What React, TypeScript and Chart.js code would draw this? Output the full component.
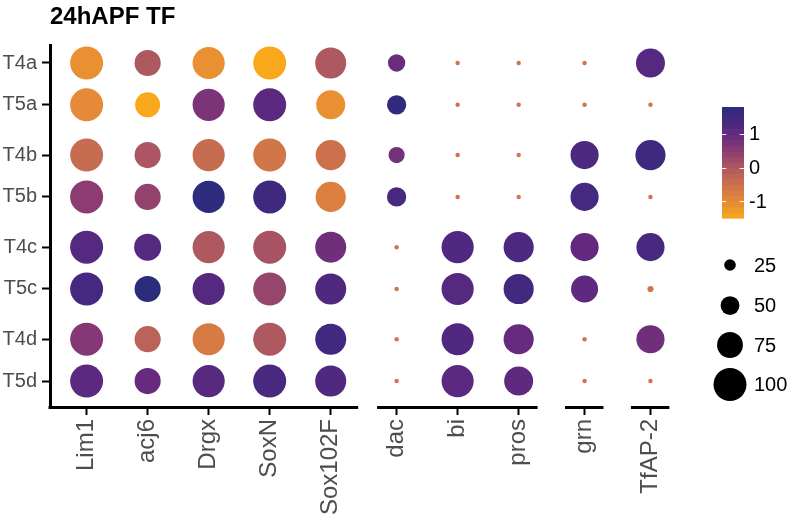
import React, { useEffect, useRef } from "react";
import { Chart, registerables } from "chart.js";

Chart.register(...registerables);

// ---------------- data ----------------
const chartTitle = "24hAPF TF";
const cellTypes = ["T4a", "T5a", "T4b", "T5b", "T4c", "T5c", "T4d", "T5d"];
const cellGroups = [0, 0, 1, 1, 2, 2, 3, 3];
const genes = ["Lim1", "acj6", "Drgx", "SoxN", "Sox102F", "dac", "bi", "pros", "grn", "TfAP-2"];
const geneGroups = [0, 0, 0, 0, 0, 1, 1, 1, 2, 3];

// percent of cells expressing (rows = cellTypes, cols = genes)
const pctT4a = [100, 76, 97, 100, 93, 45, 0, 0, 0, 86];
const pctT5a = [100, 72, 97, 100, 86, 52, 0, 0, 0, 0];
const pctT4b = [100, 76, 97, 100, 90, 41, 0, 0, 83, 90];
const pctT5b = [100, 76, 97, 100, 90, 52, 0, 0, 83, 0];
const pctT4c = [100, 79, 97, 100, 93, 0, 97, 90, 83, 83];
const pctT5c = [100, 76, 97, 100, 93, 0, 97, 90, 79, 6];
const pctT4d = [100, 76, 97, 100, 93, 0, 97, 90, 0, 83];
const pctT5d = [100, 76, 97, 100, 93, 0, 97, 86, 0, 0];
const pctExpressed = [pctT4a, pctT5a, pctT4b, pctT5b, pctT4c, pctT5c, pctT4d, pctT5d];

// scaled average expression
const expT4a = [-1.1, 0.0, -1.1, -1.5, 0.0, 0.9, -0.6, -0.6, -0.6, 1.2];
const expT5a = [-1.0, -1.5, 0.7, 1.1, -1.1, 1.7, -0.6, -0.6, -0.6, -0.6];
const expT4b = [-0.4, 0.05, -0.4, -0.6, -0.5, 0.8, -0.6, -0.6, 1.3, 1.5];
const expT5b = [0.5, 0.4, 1.75, 1.5, -0.8, 1.35, -0.6, -0.6, 1.4, -0.6];
const expT4c = [1.2, 1.2, 0.0, 0.1, 0.85, -0.6, 1.25, 1.3, 1.0, 1.35];
const expT5c = [1.4, 1.8, 1.2, 0.35, 1.25, -0.6, 1.2, 1.45, 1.05, -0.6];
const expT4d = [0.6, -0.2, -0.7, 0.0, 1.45, -0.6, 1.25, 0.95, -0.6, 0.85];
const expT5d = [1.1, 0.95, 1.15, 1.35, 1.25, -0.6, 1.1, 1.05, -0.6, -0.6];
const avgExpScaled = [expT4a, expT5a, expT4b, expT5b, expT4c, expT5c, expT4d, expT5d];

const colorLimits = [-1.5, 1.8];
const colorBreaks = [1, 0, -1];
const sizeBreaks = [25, 50, 75, 100];

// ---------------- scales / styling ----------------
const colorStops: [number, string][] = [
  [-1.5, "#F9A81B"],
  [-1.0, "#E58A38"],
  [-0.5, "#CC714C"],
  [0.0, "#AE5960"],
  [0.5, "#8C3C72"],
  [1.0, "#62297F"],
  [1.4, "#45287F"],
  [1.8, "#2B2C7C"],
];

function hexToRgb(h: string) {
  const n = parseInt(h.slice(1), 16);
  return [(n >> 16) & 255, (n >> 8) & 255, n & 255];
}
function colorFor(v: number) {
  const s = colorStops;
  if (v <= s[0][0]) return s[0][1];
  if (v >= s[s.length - 1][0]) return s[s.length - 1][1];
  for (let i = 0; i < s.length - 1; i++) {
    const [a, ca] = s[i];
    const [b, cb] = s[i + 1];
    if (v >= a && v <= b) {
      const t = (v - a) / (b - a);
      const A = hexToRgb(ca);
      const B = hexToRgb(cb);
      const c = A.map((x, k) => Math.round(x + (B[k] - x) * t));
      return `rgb(${c[0]},${c[1]},${c[2]})`;
    }
  }
  return s[0][1];
}
function diameterFor(p: number) {
  return 4.5 + 0.285 * p;
}

const ROW_GAP = 0.2;
const COL_GAP = 0.08;
const rowPos = (i: number) => i + cellGroups[i] * ROW_GAP;
const colPos = (j: number) => j + geneGroups[j] * COL_GAP;

const FONT = "'Liberation Sans', Arial, Helvetica, sans-serif";
const AXIS_TEXT = "#4D4D4D";

const decorPlugin = {
  id: "decor",
  afterDraw(chart: any) {
    const ctx = chart.ctx as CanvasRenderingContext2D;
    const xs = chart.scales.x;
    const ca = chart.chartArea;
    ctx.save();
    // broken x axis lines, one per gene group
    ctx.strokeStyle = "#000";
    ctx.lineWidth = 3;
    const nG = Math.max(...geneGroups) + 1;
    for (let g = 0; g < nG; g++) {
      const idx = geneGroups.map((gg, j) => (gg === g ? j : -1)).filter((j) => j >= 0);
      const lo = colPos(idx[0]) - (g === 0 ? 0.6 : 0.32);
      const hi = colPos(idx[idx.length - 1]) + (g === 0 ? 0.45 : 0.31);
      let x0 = xs.getPixelForValue(lo);
      const x1 = xs.getPixelForValue(hi);
      if (g === 0) x0 -= 1.5;
      ctx.beginPath();
      ctx.moveTo(x0, ca.bottom + 0.5);
      ctx.lineTo(x1, ca.bottom + 0.5);
      ctx.stroke();
    }

    // colour bar
    const barX = 722, barW = 22, barTop = 107, barBot = 218;
    const [cmin, cmax] = colorLimits;
    const nbin = 20;
    const binH = (barBot - barTop) / nbin;
    for (let b = 0; b < nbin; b++) {
      const v = cmin + ((b + 0.5) / nbin) * (cmax - cmin);
      ctx.fillStyle = colorFor(v);
      const yb = barBot - (b + 1) * binH;
      ctx.fillRect(barX, yb, barW, binH + 0.6);
    }
    const yForVal = (v: number) => barBot - ((v - cmin) / (cmax - cmin)) * (barBot - barTop);
    ctx.strokeStyle = "rgba(255,255,255,0.9)";
    ctx.lineWidth = 1;
    ctx.font = `20px ${FONT}`;
    ctx.fillStyle = "#000";
    ctx.textAlign = "left";
    ctx.textBaseline = "middle";
    colorBreaks.forEach((v) => {
      const y = Math.round(yForVal(v)) + 0.5;
      ctx.beginPath();
      ctx.moveTo(barX, y);
      ctx.lineTo(barX + 4.4, y);
      ctx.moveTo(barX + barW - 4.4, y);
      ctx.lineTo(barX + barW, y);
      ctx.stroke();
      ctx.fillText(String(v), 749, yForVal(v) + 1);
    });

    // size legend
    const sizeY = [265, 305.5, 345, 384.5];
    sizeBreaks.forEach((s, i) => {
      const d = diameterFor(s);
      ctx.fillStyle = "#000";
      ctx.beginPath();
      ctx.arc(730, sizeY[i], d / 2, 0, Math.PI * 2);
      ctx.fill();
      ctx.fillText(String(s), 754, sizeY[i] + 1);
    });
    ctx.restore();
  },
};

export default function App() {
  const ref = useRef<HTMLCanvasElement | null>(null);
  useEffect(() => {
    if (!ref.current) return;
    Chart.defaults.font.family = FONT;
    const points: any[] = [];
    cellTypes.forEach((_, i) => {
      genes.forEach((_, j) => {
        points.push({
          x: colPos(j),
          y: rowPos(i),
          r: diameterFor(pctExpressed[i][j]) / 2,
          v: avgExpScaled[i][j],
        });
      });
    });
    const chart = new Chart(ref.current, {
      type: "bubble",
      data: {
        datasets: [
          {
            data: points,
            backgroundColor: (c: any) => colorFor(c.raw ? c.raw.v : 0),
            borderWidth: 0,
            clip: false as any,
          },
        ],
      },
      options: {
        responsive: false,
        animation: false,
        devicePixelRatio: 1,
        events: [],
        layout: { padding: { left: 0, right: 125, top: 0, bottom: 0 } },
        plugins: {
          legend: { display: false },
          tooltip: { enabled: false },
          title: {
            display: true,
            text: chartTitle,
            align: "start",
            fullSize: false,
            color: "#000",
            font: { family: FONT, size: 24, weight: "bold" },
            padding: { top: 2.5, bottom: 13.7 },
          },
        },
        scales: {
          x: {
            type: "linear",
            min: -0.6,
            max: 9.56,
            afterBuildTicks: (axis: any) => {
              axis.ticks = genes.map((_, j) => ({ value: colPos(j) }));
            },
            afterFit: (s: any) => {
              s.height = 113;
            },
            grid: {
              display: true,
              drawOnChartArea: false,
              drawTicks: true,
              tickLength: 8,
              tickWidth: 2,
              tickColor: "#000",
            },
            border: { display: false },
            ticks: {
              autoSkip: false,
              minRotation: 90,
              maxRotation: 90,
              padding: 4,
              color: AXIS_TEXT,
              font: { family: FONT, size: 24 },
              callback: (_v: any, i: number) => genes[i],
            },
          },
          y: {
            type: "linear",
            reverse: true,
            min: -0.43,
            max: 8.22,
            afterBuildTicks: (axis: any) => {
              axis.ticks = cellTypes.map((_, i) => ({ value: rowPos(i) }));
            },
            afterFit: (s: any) => {
              s.width = 50;
            },
            grid: {
              display: true,
              drawOnChartArea: false,
              drawTicks: true,
              tickLength: 8,
              tickWidth: 2,
              tickColor: "#000",
            },
            border: { display: true, width: 3, color: "#000" },
            ticks: {
              padding: 5,
              color: AXIS_TEXT,
              font: { family: FONT, size: 20 },
              callback: (_v: any, i: number) => cellTypes[i],
            },
          },
        },
      },
      plugins: [decorPlugin],
    } as any);
    return () => chart.destroy();
  }, []);
  return (
    <div style={{ position: "fixed", left: 0, top: 0, width: 795, height: 520, background: "#fff" }}>
      <canvas ref={ref} width={795} height={520} style={{ display: "block" }} />
    </div>
  );
}
